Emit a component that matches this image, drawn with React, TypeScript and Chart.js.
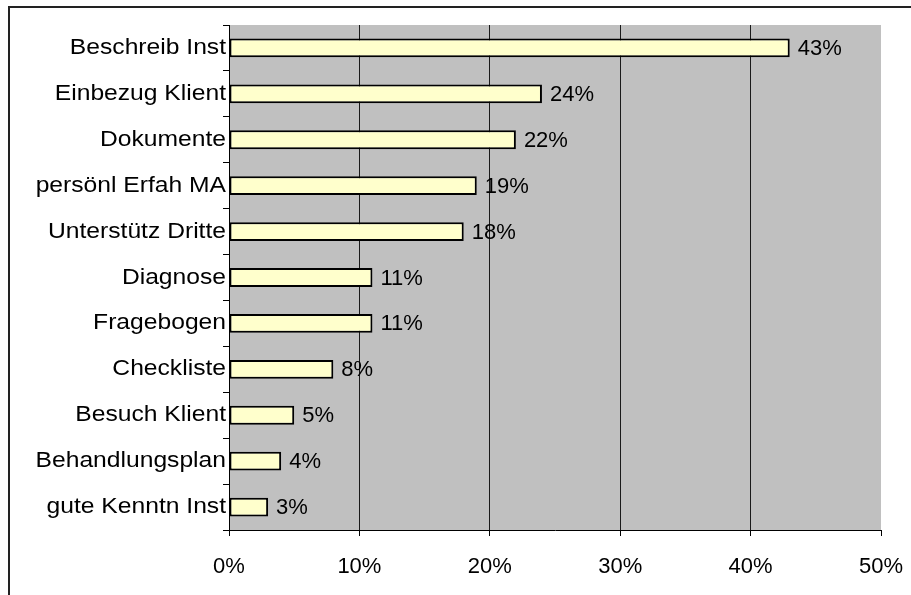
import React, { useEffect, useRef } from "react";
import { Chart, registerables } from "chart.js";

Chart.register(...registerables);

const categories = [
  "Beschreib Inst",
  "Einbezug Klient",
  "Dokumente",
  "persönl Erfah MA",
  "Unterstütz Dritte",
  "Diagnose",
  "Fragebogen",
  "Checkliste",
  "Besuch Klient",
  "Behandlungsplan",
  "gute Kenntn Inst",
];
const values = [43, 24, 22, 19, 18, 11, 11, 8, 5, 4, 3];
const axisMin = 0;
const axisMax = 50;
const axisStep = 10;

const FONT = "Arial, 'Liberation Sans', sans-serif";
const LABEL_STRETCH = 1.12;

const bgPlugin = {
  id: "plotBg",
  beforeDraw(chart: any) {
    const { ctx, chartArea } = chart;
    ctx.save();
    ctx.fillStyle = "#ffffff";
    ctx.fillRect(0, 0, chart.width, chart.height);
    ctx.fillStyle = "#c0c0c0";
    ctx.fillRect(chartArea.left, chartArea.top, chartArea.right - chartArea.left, chartArea.bottom - chartArea.top);
    ctx.restore();
  },
  afterDraw(chart: any) {
    const { ctx } = chart;
    ctx.save();
    ctx.strokeStyle = "#222222";
    ctx.lineWidth = 2;
    ctx.beginPath();
    ctx.moveTo(9, chart.height + 5);
    ctx.lineTo(9, 7);
    ctx.lineTo(chart.width + 5, 7);
    ctx.stroke();
    ctx.restore();
  },
};

const valueLabelPlugin = {
  id: "valueLabels",
  afterDatasetsDraw(chart: any) {
    const { ctx } = chart;
    const meta = chart.getDatasetMeta(0);
    ctx.save();
    ctx.fillStyle = "#000000";
    ctx.font = `22px ${FONT}`;
    ctx.textAlign = "left";
    ctx.textBaseline = "middle";
    meta.data.forEach((bar: any, i: number) => {
      ctx.fillText(`${values[i]}%`, bar.x + 8, bar.y + 1);
    });
    ctx.restore();
  },
};

export default function App() {
  const ref = useRef<HTMLCanvasElement>(null);
  useEffect(() => {
    if (!ref.current) return;
    const chart = new Chart(ref.current, {
      type: "bar",
      data: {
        labels: categories,
        datasets: [
          {
            data: values,
            backgroundColor: "#ffffcc",
            borderColor: "#000000",
            borderWidth: 2,
            borderSkipped: false,
            barPercentage: 0.41,
            categoryPercentage: 1,
          },
        ],
      },
      options: {
        indexAxis: "y",
        animation: false,
        responsive: false,
        devicePixelRatio: 1,
        layout: { padding: { left: 0, top: 25, right: 30, bottom: 0 } },
        plugins: { legend: { display: false }, tooltip: { enabled: false } },
        scales: {
          x: {
            min: axisMin,
            max: axisMax,
            ticks: {
              stepSize: axisStep,
              color: "#000000",
              font: { family: FONT, size: 22 },
              padding: 18,
              maxRotation: 0,
              callback: (v: any) => `${v}%`,
            },
            grid: {
              color: (c: any) => (c.tick && (c.tick.value === axisMax || c.tick.value === axisMin) ? "rgba(0,0,0,0)" : "#1a1a1a"),
              tickColor: "#000000",
              tickLength: 6,
              lineWidth: 1,
            },
            border: { display: true, color: "#000000", width: 1 },
            afterFit: (s: any) => {
              s.height = 65;
              s.paddingLeft = 0;
              s.paddingRight = 0;
            },
          },
          y: {
            ticks: {
              color: "#000000",
              font: { family: FONT, size: 22 },
              padding: -3,
              autoSkip: false,
            },
            grid: {
              offset: true,
              drawOnChartArea: false,
              tickColor: "#000000",
              tickLength: 6,
            },
            border: { display: true, color: "#000000", width: 1 },
            afterFit: (s: any) => {
              s.width = 229;
              s.paddingTop = 0;
              s.paddingBottom = 0;
              if (!s._wrappedLabels) {
                const orig = s.drawLabels;
                s.drawLabels = function (area: any) {
                  const c = this.ctx;
                  const ax = this.right - this.options.grid.tickLength - this.options.ticks.padding;
                  c.save();
                  c.transform(LABEL_STRETCH, 0, 0, 1, ax * (1 - LABEL_STRETCH), 0);
                  orig.call(this, area);
                  c.restore();
                };
                s._wrappedLabels = true;
              }
            },
          },
        },
      },
      plugins: [bgPlugin, valueLabelPlugin],
    });
    return () => chart.destroy();
  }, []);
  return (
    <div style={{ position: "fixed", left: 0, top: 0, width: 911, height: 595 }}>
      <canvas ref={ref} width={911} height={595} style={{ display: "block", width: 911, height: 595 }} />
    </div>
  );
}
